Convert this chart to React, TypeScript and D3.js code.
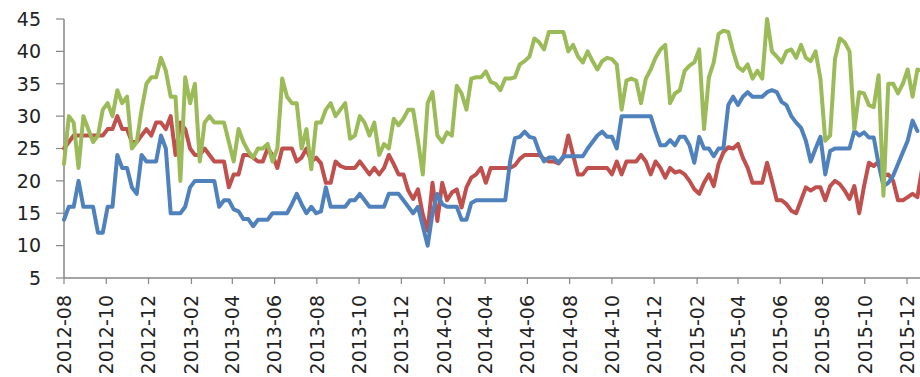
import * as d3 from "d3";

const startDate = new Date(2012, 7, 1);

// weekly readings
const greenValues = [
  22.6, 30, 29, 22, 30, 28, 26, 27, 31, 32, 30, 34, 32, 33, 25, 26, 31, 35, 36, 36,
  39, 37, 33, 33, 20, 36, 32, 35, 23, 29, 30, 29, 29, 29, 26, 23, 28, 26, 24.6, 23.6,
  25, 25, 25.7, 23, 25, 35.8, 33, 32, 32, 25, 28, 21.8, 29, 29, 31, 32, 30, 31, 32, 26.5,
  27, 30, 29, 27, 29, 24, 25.7, 25, 29.6, 28.6, 29.6, 31, 31, 26.2, 21, 32, 33.7, 27, 26, 27.5,
  27, 34.7, 33.5, 31, 35.8, 36, 36, 36.9, 35.3, 35, 34, 35.8, 35.8, 36, 38, 38.5, 39.2, 42, 41.4, 40.3,
  43, 43, 43, 43, 40, 41, 39.2, 38.3, 40, 38.5, 37.2, 38.5, 39, 38.8, 38, 31, 35.5, 35.8, 35.5, 32,
  35.8, 37.2, 39, 40.3, 41, 32, 33.5, 34, 37, 37.8, 38.3, 40.3, 28, 36, 38.3, 42.7, 43.2, 43, 40, 37.6,
  37, 38, 35.8, 37, 35.8, 45, 40, 39.2, 38.3, 40, 40.3, 39, 41, 39, 38.5, 40, 35.8, 26.2, 27, 38.8,
  42, 41.4, 40, 28, 33.7, 33.5, 31.7, 31.4, 36.3, 17.7, 35, 35, 33.5, 35, 37.2, 33, 37.2, 37,
];

const redValues = [
  25, 26, 27, 27, 27, 27, 27, 27, 27, 28, 28, 30, 28, 28, 26, 26, 27, 28, 27, 29,
  29, 28, 30, 24, 29, 28, 25, 24, 24, 25, 24, 23, 23, 23, 19, 21, 21, 24, 24, 23.6,
  23, 23, 25, 24, 22, 25, 25, 25, 23, 23.6, 25, 23, 23.6, 22.7, 19.7, 19.7, 23, 22.3, 22, 22,
  22, 23, 22, 21, 22, 21, 22, 24, 22.6, 21, 21, 18.5, 17.2, 18.7, 14.8, 12.3, 19.7, 13.8, 19.7, 17,
  18.2, 18.7, 15.9, 19, 20.5, 21, 22, 19.7, 22, 22, 22, 22, 22, 22.4, 23.4, 24, 24, 24, 24, 23.4,
  23, 23, 22.7, 23.6, 27, 24, 21, 21, 22, 22, 22, 22, 22, 21, 23, 21, 23, 23, 23, 24,
  23, 21, 23, 22, 20.5, 22, 21.3, 21.5, 21, 20, 18.7, 18, 19.7, 21, 19.2, 22.6, 24.4, 25.2, 25, 25.7,
  23.6, 22, 19.7, 19.7, 19.7, 22.8, 20, 17, 17, 16.4, 15.4, 15, 17, 19, 18.5, 19, 19, 17, 19.2, 20,
  19.5, 18.5, 17.2, 19.2, 15, 19.2, 22.8, 22.3, 23, 20.8, 21, 20, 17, 17, 17.5, 18, 17.5, 22,
];

const blueValues = [
  14, 16, 16, 20, 16, 16, 16, 12, 12, 16, 16, 24, 22, 22, 19, 18, 24, 23, 23, 23,
  27, 25, 15, 15, 15, 16, 19, 20, 20, 20, 20, 20, 16, 17, 17, 15.6, 15.3, 14.1, 14.1, 13,
  14, 14, 14, 15, 15, 15, 15, 16.4, 18, 16.4, 15, 16, 15, 15.3, 19, 16, 16, 16, 16, 17,
  17, 18, 17, 16, 16, 16, 16, 18, 18, 18, 17, 16, 15, 16, 13, 10, 15, 18, 16.4, 16,
  16, 16, 14, 14, 16.6, 17, 17, 17, 17, 17, 17, 17, 23, 26.6, 26.8, 27.6, 26.8, 26.6, 24.5, 23,
  23.6, 23.6, 22.8, 23.8, 23.8, 23.8, 23.8, 23.8, 25, 26, 27, 27.6, 26.8, 26.8, 25, 30, 30, 30, 30, 30,
  30, 30, 27.6, 25.5, 25.5, 26.3, 25.5, 26.8, 26.8, 25.5, 22.8, 26.8, 25, 25, 23.8, 25, 25, 31.7, 33, 31.7,
  33, 33.7, 33, 33, 33, 33.7, 34, 33.7, 32.2, 31.7, 30, 29, 28.2, 26.2, 23, 25, 26.8, 21, 24.6, 25,
  25, 25, 25, 27.7, 27, 27.5, 26.7, 26.7, 22.6, 19.2, 19.7, 20.8, 22.6, 24.4, 26.2, 29.3, 27.7,
];

const yTicks = [5, 10, 15, 20, 25, 30, 35, 40, 45];
const xTickLabels = [
  "2012-08", "2012-10", "2012-12", "2013-02", "2013-04", "2013-06", "2013-08",
  "2013-10", "2013-12", "2014-02", "2014-04", "2014-06", "2014-08", "2014-10",
  "2014-12", "2015-02", "2015-04", "2015-06", "2015-08", "2015-10", "2015-12",
];

const seriesList = [
  { name: "red", values: redValues, color: "#C0504D" },
  { name: "blue", values: blueValues, color: "#4F81BD" },
  { name: "green", values: greenValues, color: "#9BBB59" },
];

const W = 920;
const H = 377;
const axisColor = "#868686";
const font = "'DejaVu Sans', sans-serif";

export default function App() {
  const parseMonth = d3.timeParse("%Y-%m");
  const tickDates = xTickLabels.map((s) => parseMonth(s) as Date);

  const x = d3
    .scaleTime()
    .domain([tickDates[0], tickDates[tickDates.length - 1]])
    .range([64, 907]);
  const y = d3.scaleLinear().domain([5, 45]).range([278, 19]);

  const weekDate = (i: number) => d3.timeDay.offset(startDate, i * 7);

  const line = d3
    .line<number>()
    .x((_, i) => x(weekDate(i)))
    .y((v) => y(v));

  return (
    <>
      <style>{`body{margin:0;background:#fff}`}</style>
      <svg width={W} height={H} style={{ display: "block", background: "#fff" }}>
        <defs>
          <clipPath id="plot">
            <rect x={60} y={0} width={W - 60} height={290} />
          </clipPath>
        </defs>

        {/* y axis */}
        <line x1={64} x2={64} y1={y(45)} y2={y(5)} stroke={axisColor} strokeWidth={1.5} />
        {yTicks.map((t) => (
          <g key={t}>
            <line x1={56} x2={64} y1={y(t)} y2={y(t)} stroke={axisColor} strokeWidth={1.2} />
            <text
              x={41}
              y={y(t)}
              dy="0.36em"
              textAnchor="end"
              fontFamily={font}
              fontSize={19}
              fill="#222"
            >
              {t}
            </text>
          </g>
        ))}

        {/* x axis */}
        <line x1={64} x2={W} y1={y(5)} y2={y(5)} stroke={axisColor} strokeWidth={1.5} />
        {tickDates.map((d, i) => (
          <g key={xTickLabels[i]}>
            <line x1={x(d)} x2={x(d)} y1={y(5)} y2={y(5) + 6} stroke={axisColor} strokeWidth={1.2} />
            <text
              transform={`translate(${x(d)},${y(5) + 17}) rotate(-90)`}
              dy="0.36em"
              textAnchor="end"
              fontFamily={font}
              fontSize={19}
              fill="#222"
            >
              {xTickLabels[i]}
            </text>
          </g>
        ))}

        <g clipPath="url(#plot)">
          {seriesList.map((s) => (
            <path
              key={s.name}
              d={line(s.values) ?? ""}
              fill="none"
              stroke={s.color}
              strokeWidth={4}
              strokeLinejoin="round"
              strokeLinecap="round"
            />
          ))}
        </g>
      </svg>
    </>
  );
}
